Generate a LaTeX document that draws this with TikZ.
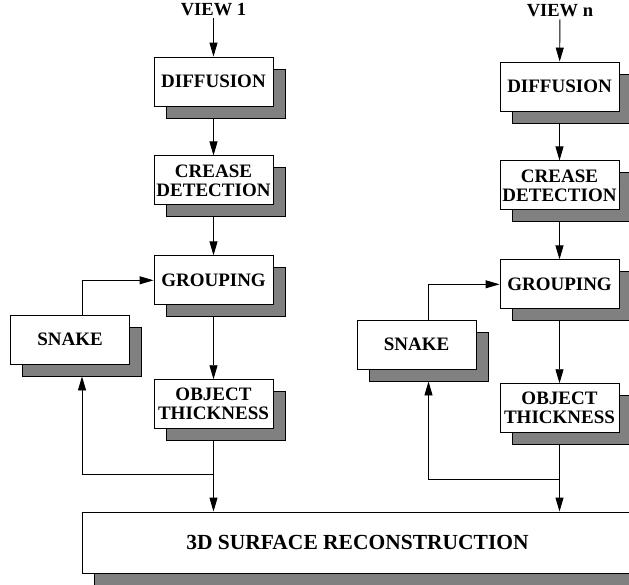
\documentclass[tikz,border=0pt]{standalone}
\usepackage{fontspec}
\setmainfont{Liberation Serif}
\usetikzlibrary{calc,positioning,arrows.meta,shadows}
\definecolor{BoxShade}{HTML}{808080}
\tikzset{
  flowBase/.style={
    font=\fontsize{19pt}{19pt}\selectfont\bfseries,
    align=center,
    inner sep=2pt,
    line width=0.9pt,
    draw=black
  },
  flowStep/.style={
    flowBase,
    fill=white,
    minimum width=119pt,
    minimum height=49pt,
    drop shadow={shadow xshift=12pt, shadow yshift=-12pt,
      fill=BoxShade, draw=black, line width=0.9pt, opacity=1}
  },
  flowWide/.style={
    flowStep,
    font=\fontsize{21.5pt}{20pt}\selectfont\bfseries,
    minimum width=551pt,
    minimum height=61pt
  },
  flowLabel/.style={
    font=\fontsize{18.5pt}{17pt}\selectfont\bfseries,
    inner sep=2pt
  },
  flowArrow/.style={
    line width=0.9pt,
    -{Triangle[length=14pt,width=8pt]}
  }
}
\begin{document}
\begin{tikzpicture}[x=1pt, y=-1pt, node distance=49pt]
        \useasboundingbox (0,0) rectangle (629,584);
        \clip (0,0) rectangle (629,584);

        \node (viewA) [flowLabel] at (213.5,10) {VIEW 1};
        \node (diffA) [flowStep] at (213.5,81.5) {DIFFUSION};
        \node (creaseA) [flowStep, below=of diffA] {CREASE\\DETECTION};
        \node (groupA) [flowStep, below=50pt of creaseA] {GROUPING};
        \node (objA) [flowStep, below=74pt of groupA] {OBJECT\\THICKNESS};
        \node (snakeA) [flowStep] at (70,339.5) {SNAKE};

        \node (viewB) [flowLabel] at (560,11) {VIEW n};
        \node (diffB) [flowStep] at (559.5,86.5) {DIFFUSION};
        \node (creaseB) [flowStep, below=of diffB] {CREASE\\DETECTION};
        \node (groupB) [flowStep, below=of creaseB] {GROUPING};
        \node (objB) [flowStep, below=74pt of groupB] {OBJECT\\THICKNESS};
        \node (snakeB) [flowStep] at (416.5,344.5) {SNAKE};

        \node (surf) [flowWide] at (357.5,542.5) {3D SURFACE RECONSTRUCTION};

        \coordinate (splitA) at (213.5,474);
        \coordinate (splitB) at (559.5,479);

        \draw [flowArrow] (viewA) -- (diffA);
        \draw [flowArrow] ([yshift=-12pt]diffA.south) -- (creaseA);
        \draw [flowArrow] ([yshift=-12pt]creaseA.south) -- (groupA);
        \draw [flowArrow] ([yshift=-12pt]groupA.south) -- (objA);
        \draw [flowArrow] ([yshift=-12pt]objA.south) -- (objA.south |- surf.north);
        \draw [flowArrow] (splitA) -| ([xshift=12pt,yshift=-12pt]snakeA.south);
        \draw [flowArrow] ([xshift=12pt]snakeA.north) |- (groupA.west);

        \draw [flowArrow] (viewB) -- (diffB);
        \draw [flowArrow] ([yshift=-12pt]diffB.south) -- (creaseB);
        \draw [flowArrow] ([yshift=-12pt]creaseB.south) -- (groupB);
        \draw [flowArrow] ([yshift=-12pt]groupB.south) -- (objB);
        \draw [flowArrow] ([yshift=-12pt]objB.south) -- (objB.south |- surf.north);
        \draw [flowArrow] (splitB) -| ([xshift=12pt,yshift=-12pt]snakeB.south);
        \draw [flowArrow] ([xshift=12pt]snakeB.north) |- (groupB.west);
      \end{tikzpicture}
\end{document}
